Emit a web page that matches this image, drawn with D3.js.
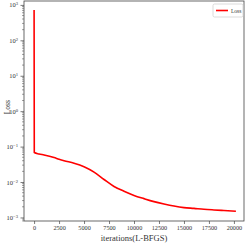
<!DOCTYPE html>
<html><head><meta charset="utf-8">
<script src="https://cdn.jsdelivr.net/npm/d3@7"></script>
<style>html,body{margin:0;padding:0;background:#fff;}svg{display:block;}</style>
</head><body>
<script>
const iterations = [0, 20, 500, 1000, 2000, 2500, 3000, 4000, 5000, 6000, 7000, 8000, 9000, 10000, 11000, 12000, 13000, 14000, 15000, 16000, 17000, 18000, 19000, 20200];
const lossValues = [720, 0.068, 0.062, 0.058, 0.049, 0.044, 0.040, 0.034, 0.027, 0.019, 0.0118, 0.0075, 0.0055, 0.0042, 0.0034, 0.0028, 0.0024, 0.0021, 0.0019, 0.0018, 0.0017, 0.00163, 0.00157, 0.0015];
const xTicks = [0, 2500, 5000, 7500, 10000, 12500, 15000, 17500, 20000];
const yTickExps = [-3, -2, -1, 0, 1, 2, 3];
const seriesName = "Loss";
const xLabel = "iterations(L-BFGS)";
const yLabel = "Loss";

const W = 246, H = 246;
const m = {left: 24, right: 2, top: 1, bottom: 25};
const svg = d3.select("body").append("svg").attr("width", W).attr("height", H);
const font = "'Liberation Serif', 'DejaVu Serif', serif";

const x = d3.scaleLinear().domain([-1010, 21010]).range([m.left, W - m.right]);
const y = d3.scaleLog().domain([Math.pow(10, -3.1), Math.pow(10, 3.11)]).range([H - m.bottom, m.top]);

// line
const data = iterations.map((d, i) => [d, lossValues[i]]);
svg.append("path").datum(data)
  .attr("fill", "none").attr("stroke", "#ff0000").attr("stroke-width", 1.6)
  .attr("stroke-linejoin", "round")
  .attr("d", d3.line().x(d => x(d[0])).y(d => y(d[1])).curve(d3.curveMonotoneX));

// frame
const spine = "#444";
svg.append("rect").attr("x", m.left).attr("y", m.top)
  .attr("width", W - m.right - m.left).attr("height", H - m.bottom - m.top)
  .attr("fill", "none").attr("stroke", spine).attr("stroke-width", 0.8);

// x axis
const gx = svg.append("g").attr("transform", `translate(0,${H - m.bottom})`)
  .call(d3.axisBottom(x).tickValues(xTicks).tickSize(3).tickPadding(2).tickFormat(d3.format("d")));
gx.select(".domain").remove();
gx.selectAll("line").attr("stroke", spine).attr("stroke-width", 0.7);
gx.selectAll("text").attr("font-family", font).attr("font-size", 6.2).attr("fill", "#333");

// y axis major
const gy = svg.append("g").attr("transform", `translate(${m.left},0)`)
  .call(d3.axisLeft(y).tickValues(yTickExps.map(e => Math.pow(10, e))).tickSize(3.5).tickPadding(2).tickFormat(""));
gy.select(".domain").remove();
gy.selectAll("line").attr("stroke", spine).attr("stroke-width", 0.7);
gy.selectAll(".tick").each(function(d) {
  const e = Math.round(Math.log10(d));
  const t = d3.select(this).append("text").attr("x", -6).attr("dy", "0.32em")
    .attr("text-anchor", "end").attr("font-family", font).attr("font-size", 6.5).attr("fill", "#333");
  t.append("tspan").text("10");
  t.append("tspan").attr("dy", "-0.45em").attr("font-size", 4.6).text(e < 0 ? "\u2212" + (-e) : String(e));
});

// y minor ticks
const minor = [];
for (let e = -4; e <= 3; e++) for (let k = 2; k <= 9; k++) {
  const v = k * Math.pow(10, e);
  if (v >= y.domain()[0] && v <= y.domain()[1]) minor.push(v);
}
svg.append("g").selectAll("line").data(minor).join("line")
  .attr("x1", m.left - 2).attr("x2", m.left)
  .attr("y1", d => y(d)).attr("y2", d => y(d))
  .attr("stroke", spine).attr("stroke-width", 0.5);

// axis labels
svg.append("text").attr("x", x(10000)).attr("y", 241).attr("text-anchor", "middle")
  .attr("font-family", font).attr("font-size", 8.5).attr("fill", "#333").text(xLabel);
svg.append("text").attr("transform", `translate(10,${y(1) - 4}) rotate(-90)`).attr("text-anchor", "middle")
  .attr("font-family", font).attr("font-size", 7.5).attr("fill", "#333").text(yLabel);

// legend
const lg = svg.append("g");
lg.append("rect").attr("x", 213).attr("y", 4).attr("width", 30).attr("height", 13).attr("rx", 1.5)
  .attr("fill", "#fff").attr("stroke", "#ccc").attr("stroke-width", 0.7);
lg.append("line").attr("x1", 216).attr("x2", 228).attr("y1", 10.5).attr("y2", 10.5)
  .attr("stroke", "#ff0000").attr("stroke-width", 1.6);
lg.append("text").attr("x", 231).attr("y", 12.5).attr("font-family", font).attr("font-size", 5.5)
  .attr("fill", "#333").text(seriesName);
</script>
</body></html>
